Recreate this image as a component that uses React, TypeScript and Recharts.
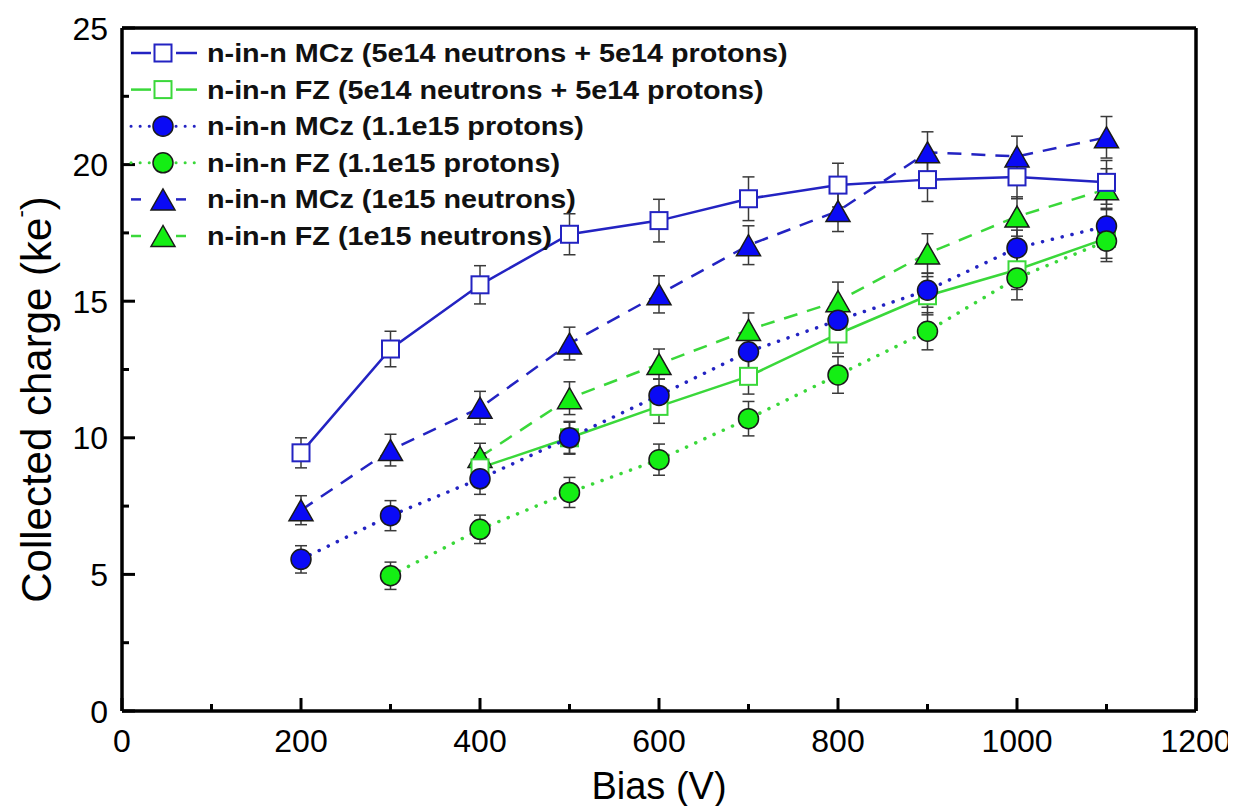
import React from 'react';
import { LineChart, Line, XAxis, YAxis, ErrorBar, Legend } from 'recharts';

// bias voltages (V)
const biasAll = [200, 300, 400, 500, 600, 700, 800, 900, 1000, 1100];
const biasFrom300 = [300, 400, 500, 600, 700, 800, 900, 1000, 1100];
const biasFrom400 = [400, 500, 600, 700, 800, 900, 1000, 1100];

// collected charge (ke-) and errors
const mczMixed = [9.45, 13.25, 15.6, 17.45, 17.95, 18.75, 19.25, 19.45, 19.55, 19.35];
const mczMixedErr = [0.55, 0.65, 0.7, 0.75, 0.78, 0.8, 0.8, 0.8, 0.8, 0.8];

const fzMixed = [8.9, 10.0, 11.15, 12.25, 13.8, 15.2, 16.15, 17.3];
const fzMixedErr = [0.55, 0.6, 0.62, 0.65, 0.7, 0.7, 0.72, 0.73];

const mczProtons = [5.55, 7.15, 8.5, 10.0, 11.55, 13.15, 14.3, 15.4, 16.95, 17.75];
const mczProtonsErr = [0.5, 0.55, 0.57, 0.57, 0.6, 0.6, 0.62, 0.62, 0.65, 0.65];

const fzProtons = [4.95, 6.65, 8.0, 9.2, 10.7, 12.3, 13.9, 15.85, 17.2];
const fzProtonsErr = [0.5, 0.52, 0.55, 0.57, 0.63, 0.67, 0.68, 0.8, 0.75];

const mczNeutrons = [7.35, 9.55, 11.1, 13.45, 15.25, 17.05, 18.3, 20.45, 20.3, 21.0];
const mczNeutronsErr = [0.53, 0.58, 0.6, 0.6, 0.68, 0.71, 0.75, 0.75, 0.74, 0.76];

const fzNeutrons = [9.3, 11.45, 12.7, 13.95, 15.0, 16.75, 18.1, 19.1];
const fzNeutronsErr = [0.5, 0.6, 0.55, 0.62, 0.7, 0.72, 0.72, 0.75];

const xTicks = [0, 100, 200, 300, 400, 500, 600, 700, 800, 900, 1000, 1100, 1200];
const yTicks = [0, 2.5, 5, 7.5, 10, 12.5, 15, 17.5, 20, 22.5, 25];

const legendLabels = [
  'n-in-n MCz (5e14 neutrons + 5e14 protons)',
  'n-in-n FZ (5e14 neutrons + 5e14 protons)',
  'n-in-n MCz (1.1e15 protons)',
  'n-in-n FZ (1.1e15 protons)',
  'n-in-n MCz (1e15 neutrons)',
  'n-in-n FZ (1e15 neutrons)',
];

const toRows = (xs: number[], ys: number[], errs: number[]) =>
  xs.map((x, i) => ({ x, y: ys[i], err: errs[i] }));

const BLUE_LINE = '#2323c2';
const BLUE_FILL = '#0a0af5';
const GREEN_LINE = '#3ad83a';
const GREEN_FILL = '#14ee14';
const FONT = '"Liberation Sans", Arial, sans-serif';

type Kind = 'square' | 'circle' | 'triangle';

const Marker = ({ kind, cx, cy, color, fill }: { kind: Kind; cx: number; cy: number; color: string; fill: string }) => {
  if (kind === 'square')
    return <rect x={cx - 8.5} y={cy - 8.5} width={17} height={17} fill="#fff" stroke={color} strokeWidth={2} />;
  if (kind === 'circle') return <circle cx={cx} cy={cy} r={10} fill={fill} stroke="#1a1a1a" strokeWidth={1.5} />;
  return (
    <polygon
      points={`${cx},${cy - 10.5} ${cx - 12},${cy + 10.5} ${cx + 12},${cy + 10.5}`}
      fill={fill}
      stroke="#1a1a1a"
      strokeWidth={1.5}
    />
  );
};

const dotFor = (kind: Kind, color: string, fill: string) => (p: any) =>
  <Marker key={`m-${p.index}`} kind={kind} cx={p.cx} cy={p.cy} color={color} fill={fill} />;

const DOTTED = '0.1 10';
const DASHED = '14 10';

const legendStyles = [
  { kind: 'square' as Kind, line: BLUE_LINE, fill: BLUE_FILL, dash: undefined },
  { kind: 'square' as Kind, line: GREEN_LINE, fill: GREEN_FILL, dash: undefined },
  { kind: 'circle' as Kind, line: BLUE_LINE, fill: BLUE_FILL, dash: DOTTED },
  { kind: 'circle' as Kind, line: GREEN_LINE, fill: GREEN_FILL, dash: DOTTED },
  { kind: 'triangle' as Kind, line: BLUE_LINE, fill: BLUE_FILL, dash: DASHED },
  { kind: 'triangle' as Kind, line: GREEN_LINE, fill: GREEN_FILL, dash: DASHED },
];

const renderLegend = () => (
  <svg width={720} height={240} style={{ display: 'block', overflow: 'visible' }}>
    {legendLabels.map((label, i) => {
      const st = legendStyles[i];
      const y = 23 + i * 36.6;
      const dotted = st.dash === DOTTED;
      const lineProps = {
        stroke: st.line,
        strokeWidth: dotted ? 3 : 2.5,
        strokeDasharray: dotted ? '0.1 9' : st.dash === DASHED ? '10 40' : undefined,
        strokeLinecap: (dotted ? 'round' : 'butt') as any,
      };
      return (
        <g key={label}>
          <line x1={13} y1={y} x2={33} y2={y} {...lineProps} />
          <line x1={58} y1={y} x2={79} y2={y} {...lineProps} />
          <Marker kind={st.kind} cx={45} cy={y} color={st.line} fill={st.fill} />
          <text
            transform={`translate(89, ${y + 9}) scale(1.15, 1)`}
            fontSize={25}
            fontWeight="bold"
            fill="#111"
            fontFamily={FONT}
          >
            {label}
          </text>
        </g>
      );
    })}
  </svg>
);

const BottomTick = (props: any) => {
  const { x, y, payload } = props;
  const major = payload.value % 200 === 0;
  return (
    <g>
      <line x1={x} y1={y} x2={x} y2={y - (major ? 13 : 7)} stroke="#000" strokeWidth={3} />
      {major && (
        <text x={x} y={y + 41} textAnchor="middle" fontSize={32} fill="#000" fontFamily={FONT}>
          {payload.value}
        </text>
      )}
    </g>
  );
};

const TopTick = (props: any) => {
  const { x, y, payload } = props;
  const major = payload.value % 200 === 0;
  return <line x1={x} y1={y} x2={x} y2={y + (major ? 13 : 7)} stroke="#000" strokeWidth={3} />;
};

const LeftTick = (props: any) => {
  const { x, y, payload } = props;
  const major = payload.value % 5 === 0;
  return (
    <g>
      <line x1={x} y1={y} x2={x + (major ? 13 : 7)} y2={y} stroke="#000" strokeWidth={3} />
      {major && (
        <text x={x - 14} y={y + 11.5} textAnchor="end" fontSize={32} fill="#000" fontFamily={FONT}>
          {payload.value}
        </text>
      )}
    </g>
  );
};

const RightTick = (props: any) => {
  const { x, y, payload } = props;
  const major = payload.value % 5 === 0;
  return <line x1={x} y1={y} x2={x - (major ? 13 : 7)} y2={y} stroke="#000" strokeWidth={3} />;
};

const YLabel = (props: any) => {
  const vb = props.viewBox || { x: 0, y: 20, width: 114, height: 683 };
  const cx = vb.x + 28;
  const cy = vb.y + vb.height / 2 + 30;
  return (
    <text
      x={cx}
      y={cy}
      transform={`rotate(-90, ${cx}, ${cy})`}
      textAnchor="middle"
      fontSize={42}
      fill="#000"
      fontFamily={FONT}
      dominantBaseline="central"
    >
      Collected charge (ke
      <tspan fontSize={22} dy={-16}>-</tspan>
      <tspan dy={16}>)</tspan>
    </text>
  );
};

const axisLine = { stroke: '#000', strokeWidth: 3.5 };
const errProps = { dataKey: 'err', width: 6, stroke: '#3a3a3a', strokeWidth: 1.5, direction: 'y' as const };

export default function App() {
  return (
    <LineChart
      width={1228}
      height={798}
      margin={{ top: 19, right: 39, bottom: 0, left: 0 }}
      style={{ fontFamily: FONT, background: '#fff' }}
    >
      <XAxis
        dataKey="x"
        type="number"
        domain={[0, 1200]}
        ticks={xTicks}
        interval={0}
        height={95}
        tickSize={0}
        tickMargin={0}
        tickLine={false}
        axisLine={axisLine}
        tick={<BottomTick />}
        allowDuplicatedCategory={false}
        label={{ value: 'Bias (V)', position: 'insideBottom', offset: 7, fontSize: 38, fill: '#000' }}
      />
      <XAxis
        xAxisId="top"
        orientation="top"
        type="number"
        domain={[0, 1200]}
        ticks={xTicks}
        interval={0}
        height={1}
        tickSize={0}
        tickMargin={0}
        tickLine={false}
        axisLine={axisLine}
        tick={<TopTick />}
      />
      <YAxis
        type="number"
        domain={[0, 25]}
        ticks={yTicks}
        interval={0}
        width={114}
        tickSize={0}
        tickMargin={0}
        tickLine={false}
        axisLine={axisLine}
        tick={<LeftTick />}
        label={<YLabel />}
      />
      <YAxis
        yAxisId="right"
        orientation="right"
        type="number"
        domain={[0, 25]}
        ticks={yTicks}
        interval={0}
        width={1}
        tickSize={0}
        tickMargin={0}
        tickLine={false}
        axisLine={axisLine}
        tick={<RightTick />}
      />
      <Legend
        layout="vertical"
        align="center"
        verticalAlign="middle"
        content={renderLegend}
        wrapperStyle={{ left: 110, top: 22, width: 720, height: 240 }}
      />

      <Line
        data={toRows(biasAll, mczNeutrons, mczNeutronsErr)}
        dataKey="y"
        type="linear"
        stroke={BLUE_LINE}
        strokeWidth={2.5}
        strokeDasharray={DASHED}
        dot={dotFor('triangle', BLUE_LINE, BLUE_FILL)}
        activeDot={false}
        isAnimationActive={false}
      >
        <ErrorBar {...errProps} />
      </Line>
      <Line
        data={toRows(biasFrom400, fzNeutrons, fzNeutronsErr)}
        dataKey="y"
        type="linear"
        stroke={GREEN_LINE}
        strokeWidth={2.5}
        strokeDasharray={DASHED}
        dot={dotFor('triangle', GREEN_LINE, GREEN_FILL)}
        activeDot={false}
        isAnimationActive={false}
      >
        <ErrorBar {...errProps} />
      </Line>
      <Line
        data={toRows(biasAll, mczMixed, mczMixedErr)}
        dataKey="y"
        type="linear"
        stroke={BLUE_LINE}
        strokeWidth={2.5}
        dot={dotFor('square', BLUE_LINE, BLUE_FILL)}
        activeDot={false}
        isAnimationActive={false}
      >
        <ErrorBar {...errProps} />
      </Line>
      <Line
        data={toRows(biasFrom400, fzMixed, fzMixedErr)}
        dataKey="y"
        type="linear"
        stroke={GREEN_LINE}
        strokeWidth={2.5}
        dot={dotFor('square', GREEN_LINE, GREEN_FILL)}
        activeDot={false}
        isAnimationActive={false}
      >
        <ErrorBar {...errProps} />
      </Line>
      <Line
        data={toRows(biasAll, mczProtons, mczProtonsErr)}
        dataKey="y"
        type="linear"
        stroke={BLUE_LINE}
        strokeWidth={3.5}
        strokeDasharray={DOTTED}
        strokeLinecap="round"
        dot={dotFor('circle', BLUE_LINE, BLUE_FILL)}
        activeDot={false}
        isAnimationActive={false}
      >
        <ErrorBar {...errProps} />
      </Line>
      <Line
        data={toRows(biasFrom300, fzProtons, fzProtonsErr)}
        dataKey="y"
        type="linear"
        stroke={GREEN_LINE}
        strokeWidth={3.5}
        strokeDasharray={DOTTED}
        strokeLinecap="round"
        dot={dotFor('circle', GREEN_LINE, GREEN_FILL)}
        activeDot={false}
        isAnimationActive={false}
      >
        <ErrorBar {...errProps} />
      </Line>
    </LineChart>
  );
}
